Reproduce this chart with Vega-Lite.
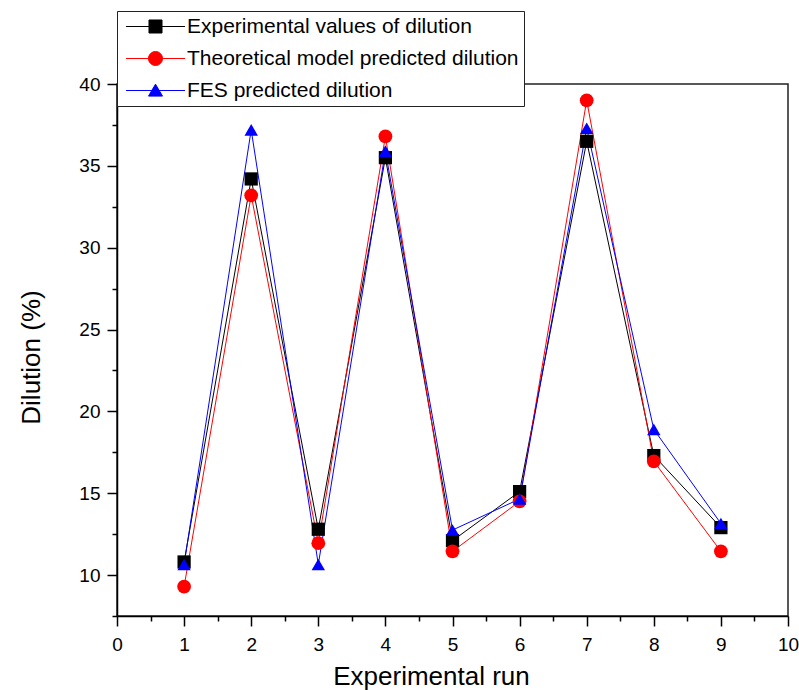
{
  "$schema": "https://vega.github.io/schema/vega-lite/v6.json",
  "width": 671,
  "height": 532,
  "autosize": {"type": "none"},
  "padding": {"left": 117, "top": 84, "right": 11, "bottom": 74},
  "background": "white",
  "config": {
    "view": {"stroke": "#222222", "strokeWidth": 1.5},
    "font": "Liberation Sans",
    "axis": {"grid": false, "domainColor": "black", "tickColor": "black", "labelColor": "black", "titleColor": "black", "labelFont": "Liberation Sans", "titleFont": "Liberation Sans", "titleFontWeight": "normal"}
  },
  "data": {
    "values": [
      {"run": 1, "series": "Experimental values of dilution", "value": 10.8},
      {"run": 2, "series": "Experimental values of dilution", "value": 34.2},
      {"run": 3, "series": "Experimental values of dilution", "value": 12.8},
      {"run": 4, "series": "Experimental values of dilution", "value": 35.5},
      {"run": 5, "series": "Experimental values of dilution", "value": 12.1},
      {"run": 6, "series": "Experimental values of dilution", "value": 15.1},
      {"run": 7, "series": "Experimental values of dilution", "value": 36.5},
      {"run": 8, "series": "Experimental values of dilution", "value": 17.3},
      {"run": 9, "series": "Experimental values of dilution", "value": 12.9},
      {"run": 1, "series": "Theoretical model predicted dilution", "value": 9.3},
      {"run": 2, "series": "Theoretical model predicted dilution", "value": 33.2},
      {"run": 3, "series": "Theoretical model predicted dilution", "value": 11.95},
      {"run": 4, "series": "Theoretical model predicted dilution", "value": 36.8},
      {"run": 5, "series": "Theoretical model predicted dilution", "value": 11.45},
      {"run": 6, "series": "Theoretical model predicted dilution", "value": 14.5},
      {"run": 7, "series": "Theoretical model predicted dilution", "value": 39.0},
      {"run": 8, "series": "Theoretical model predicted dilution", "value": 16.95},
      {"run": 9, "series": "Theoretical model predicted dilution", "value": 11.45},
      {"run": 1, "series": "FES predicted dilution", "value": 10.65},
      {"run": 2, "series": "FES predicted dilution", "value": 37.2},
      {"run": 3, "series": "FES predicted dilution", "value": 10.65},
      {"run": 4, "series": "FES predicted dilution", "value": 35.9},
      {"run": 5, "series": "FES predicted dilution", "value": 12.75},
      {"run": 6, "series": "FES predicted dilution", "value": 14.65},
      {"run": 7, "series": "FES predicted dilution", "value": 37.3},
      {"run": 8, "series": "FES predicted dilution", "value": 18.9},
      {"run": 9, "series": "FES predicted dilution", "value": 13.15}
    ]
  },
  "resolve": {"axis": {"x": "independent", "y": "independent"}},
  "layer": [
    {
      "mark": {"type": "line", "strokeWidth": 1},
      "encoding": {
        "x": {"field": "run", "type": "quantitative", "scale": {"domain": [0, 10], "nice": false, "zero": false},
          "axis": {"orient": "bottom", "values": [0,1,2,3,4,5,6,7,8,9,10], "format": "d", "tickSize": 10, "tickWidth": 1.5, "domainWidth": 1.5, "labelFontSize": 19, "labelPadding": 9, "labelFlush": false, "labelOverlap": false,
            "title": "Experimental run", "titleFontSize": 26, "titleX": 314, "titleY": 68, "titleBaseline": "alphabetic", "titleAlign": "center", "titleAnchor": null}},
        "y": {"field": "value", "type": "quantitative", "scale": {"domain": [7.5, 40], "nice": false, "zero": false},
          "axis": {"orient": "left", "values": [10,15,20,25,30,35,40], "tickSize": 10, "tickWidth": 1.5, "domainWidth": 1.5, "labelFontSize": 19, "labelPadding": 7, "labelFlush": false, "labelOverlap": false,
            "title": "Dilution (%)", "titleFontSize": 26, "titleAngle": -90, "titleX": -78, "titleY": 273, "titleBaseline": "alphabetic", "titleAlign": "center"}},
        "color": {"field": "series", "type": "nominal",
          "scale": {"domain": ["Experimental values of dilution", "Theoretical model predicted dilution", "FES predicted dilution"], "range": ["#000000", "#ff0000", "#0000ff"]},
          "legend": {"title": null, "orient": "none", "legendX": 0, "legendY": -73, "fillColor": "white", "strokeColor": "#222222", "padding": 5,
            "labelFont": "Liberation Sans", "labelFontSize": 21, "labelColor": "black", "labelLimit": 500, "symbolSize": 196, "symbolOffset": 23, "labelOffset": 21, "rowPadding": 10, "symbolStrokeWidth": 1, "symbolOpacity": 1}},
        "detail": {"field": "series"}
      }
    },
    {
      "transform": [{"filter": "datum.series === 'Experimental values of dilution'"}],
      "mark": {"type": "point", "filled": true, "size": 175, "shape": "square", "color": "#000000", "opacity": 1},
      "encoding": {
        "x": {"field": "run", "type": "quantitative", "axis": null},
        "y": {"field": "value", "type": "quantitative", "axis": null}
      }
    },
    {
      "transform": [{"filter": "datum.series === 'Theoretical model predicted dilution'"}],
      "mark": {"type": "point", "filled": true, "size": 190, "shape": "circle", "color": "#ff0000", "opacity": 1},
      "encoding": {
        "x": {"field": "run", "type": "quantitative", "axis": null},
        "y": {"field": "value", "type": "quantitative", "axis": null}
      }
    },
    {
      "transform": [{"filter": "datum.series === 'FES predicted dilution'"}],
      "mark": {"type": "point", "filled": true, "size": 180, "shape": "triangle-up", "color": "#0000ff", "opacity": 1},
      "encoding": {
        "x": {"field": "run", "type": "quantitative", "axis": null},
        "y": {"field": "value", "type": "quantitative", "axis": null}
      }
    },
    {
      "mark": {"type": "point", "filled": true, "size": 0, "opacity": 1},
      "encoding": {
        "x": {"field": "run", "type": "quantitative",
          "axis": {"orient": "bottom", "values": [0.5,1.5,2.5,3.5,4.5,5.5,6.5,7.5,8.5,9.5], "labels": false, "domain": false, "tickSize": 5, "tickWidth": 1.5, "title": null}},
        "y": {"field": "value", "type": "quantitative",
          "axis": {"orient": "left", "values": [7.5,12.5,17.5,22.5,27.5,32.5,37.5], "labels": false, "domain": false, "tickSize": 5, "tickWidth": 1.5, "title": null}},
        "color": {"field": "series", "type": "nominal"},
        "shape": {"field": "series", "type": "nominal",
          "scale": {"domain": ["Experimental values of dilution", "Theoretical model predicted dilution", "FES predicted dilution"],
            "range": ["M-4.214,0H4.214M-0.93,-0.93H0.93V0.93H-0.93Z", "M-4.214,0H4.214M-1,0A1,1 0 1,0 1,0A1,1 0 1,0 -1,0Z", "M-4.214,0H4.214M0,-0.9L1,0.8H-1Z"]}}
      }
    }
  ]
}
